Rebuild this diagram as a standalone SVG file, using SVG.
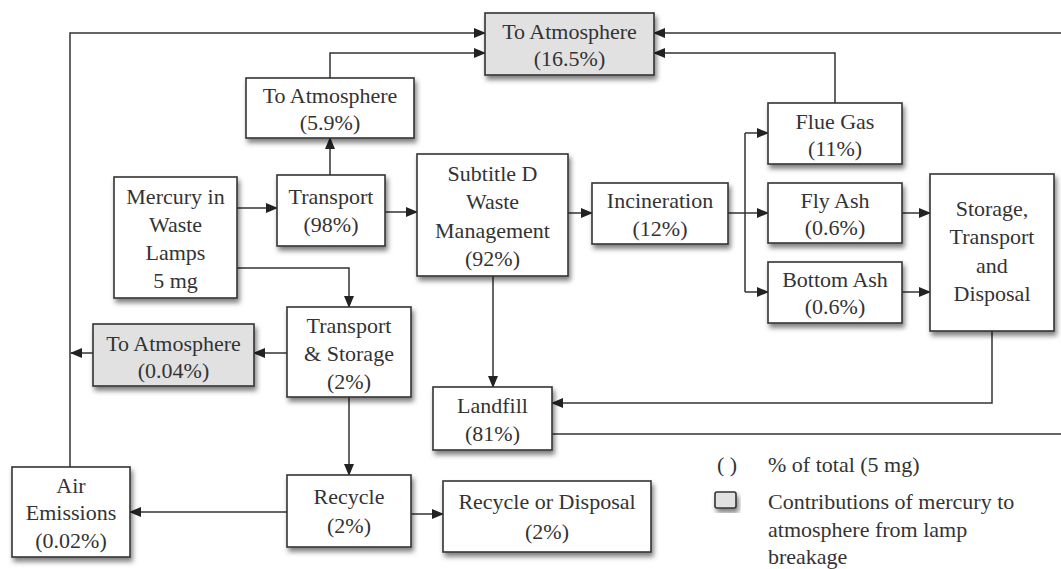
<svg xmlns="http://www.w3.org/2000/svg" width="1061" height="569" viewBox="0 0 1061 569">
<defs>
<filter id="sh" x="-20%" y="-20%" width="140%" height="150%">
<feDropShadow dx="2" dy="4" stdDeviation="2.5" flood-color="#000" flood-opacity="0.5"/>
</filter>
<marker id="ah" markerWidth="12" markerHeight="10" refX="11" refY="5" orient="auto" markerUnits="userSpaceOnUse">
<path d="M0,0 L12,5 L0,10 Z" fill="#222"/>
</marker>
<style>
.b{fill:#fff;stroke:#333;stroke-width:1.6;filter:url(#sh)}
.g{fill:#e1e1e1;stroke:#333;stroke-width:1.6;filter:url(#sh)}
text{font-size:22px;fill:#333;text-anchor:middle}
.l{text-anchor:start}
.c path{fill:none;stroke:#333;stroke-width:1.5}
.a{marker-end:url(#ah)}
</style>
</defs>
<g class="c" id="connectors">
<path class="a" d="M70,467 V33 H485"/>
<path class="a" d="M330,175 V138"/>
<path class="a" d="M330,78 V53 H485"/>
<path class="a" d="M1061,33 H654"/>
<path class="a" d="M835,103 V53 H654"/>
<path class="a" d="M237,208 H277"/>
<path class="a" d="M385,212 H417"/>
<path class="a" d="M568,213 H592"/>
<path d="M728,213 H745 M745,133 V292"/>
<path class="a" d="M745,133 H768"/>
<path class="a" d="M745,213 H768"/>
<path class="a" d="M745,292 H768"/>
<path class="a" d="M902,213 H930"/>
<path class="a" d="M902,292 H930"/>
<path class="a" d="M992,331 V403 H552"/>
<path d="M552,434 H1061"/>
<path class="a" d="M493,276 V387"/>
<path class="a" d="M237,268 H349 V307"/>
<path class="a" d="M287,353 H254"/>
<path class="a" d="M93,353 H71"/>
<path class="a" d="M349,397 V475"/>
<path class="a" d="M287,512 H130"/>
<path class="a" d="M411,514 H443"/>
</g>
<g font-family="Liberation Serif, Times New Roman, DejaVu Serif, serif">
<g id="atm-total"><rect class="g" x="485" y="13" width="169" height="62"/><text x="569.5" y="39">To Atmosphere</text><text x="569.5" y="66">(16.5%)</text></g>
<g id="atm-transport"><rect class="b" x="246" y="78" width="168" height="60"/><text x="330" y="103">To Atmosphere</text><text x="330" y="130">(5.9%)</text></g>
<g id="mercury"><rect class="b" x="114" y="177" width="123" height="121"/><text x="175.5" y="204">Mercury in</text><text x="175.5" y="232">Waste</text><text x="175.5" y="260">Lamps</text><text x="175.5" y="288">5 mg</text></g>
<g id="transport"><rect class="b" x="277" y="175" width="108" height="71"/><text x="331" y="204">Transport</text><text x="331" y="232">(98%)</text></g>
<g id="subtitle-d"><rect class="b" x="417" y="154" width="151" height="122"/><text x="492.5" y="181">Subtitle D</text><text x="492.5" y="209">Waste</text><text x="492.5" y="238">Management</text><text x="492.5" y="266">(92%)</text></g>
<g id="incineration"><rect class="b" x="592" y="183" width="136" height="61"/><text x="660" y="208">Incineration</text><text x="660" y="236">(12%)</text></g>
<g id="flue-gas"><rect class="b" x="768" y="103" width="134" height="61"/><text x="835" y="129">Flue Gas</text><text x="835" y="156">(11%)</text></g>
<g id="fly-ash"><rect class="b" x="768" y="183" width="134" height="60"/><text x="835" y="208">Fly Ash</text><text x="835" y="235">(0.6%)</text></g>
<g id="bottom-ash"><rect class="b" x="768" y="262" width="134" height="61"/><text x="835" y="287">Bottom Ash</text><text x="835" y="314">(0.6%)</text></g>
<g id="storage"><rect class="b" x="930" y="174" width="124" height="157"/><text x="992" y="216">Storage,</text><text x="992" y="244">Transport</text><text x="992" y="273">and</text><text x="992" y="301">Disposal</text></g>
<g id="transport-storage"><rect class="b" x="287" y="307" width="124" height="90"/><text x="349" y="333">Transport</text><text x="349" y="361">&amp; Storage</text><text x="349" y="389">(2%)</text></g>
<g id="atm-breakage"><rect class="g" x="93" y="324" width="161" height="62"/><text x="173.5" y="351">To Atmosphere</text><text x="173.5" y="378">(0.04%)</text></g>
<g id="landfill"><rect class="b" x="433" y="387" width="119" height="63"/><text x="492.5" y="413">Landfill</text><text x="492.5" y="441">(81%)</text></g>
<g id="recycle"><rect class="b" x="287" y="475" width="124" height="72"/><text x="349" y="504">Recycle</text><text x="349" y="533">(2%)</text></g>
<g id="air-emissions"><rect class="b" x="12" y="467" width="118" height="90"/><text x="71" y="493">Air</text><text x="71" y="520">Emissions</text><text x="71" y="548">(0.02%)</text></g>
<g id="recycle-disposal"><rect class="b" x="443" y="481" width="208" height="71"/><text x="547" y="509">Recycle or Disposal</text><text x="547" y="539">(2%)</text></g>
<g id="legend">
<text x="727" y="472">( )</text>
<text class="l" x="768" y="472">% of total (5 mg)</text>
<rect class="g" x="715" y="492" width="21" height="16" rx="2"/>
<text class="l" x="768" y="509">Contributions of mercury to</text>
<text class="l" x="768" y="537">atmosphere from lamp</text>
<text class="l" x="768" y="564">breakage</text>
</g>
</g>
</svg>
